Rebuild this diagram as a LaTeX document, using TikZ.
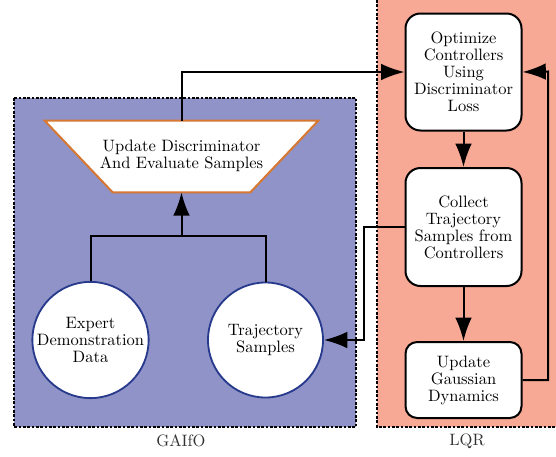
\documentclass[tikz,border=0pt]{standalone}
\usetikzlibrary{arrows.meta}
\definecolor{gaifo}{RGB}{143,147,200}
\definecolor{lqr}{RGB}{247,169,150}
\definecolor{circblue}{RGB}{40,58,140}
\definecolor{traporange}{RGB}{214,120,50}
\definecolor{lbl}{RGB}{50,50,50}
\begin{document}
\begin{tikzpicture}[x=0.6pt,y=-0.6pt,
  every node/.style={font=\fontsize{9.9}{10.2}\selectfont, align=center, inner sep=0pt},
  region/.style={draw=black, line width=0.9pt, dash pattern=on 1.6pt off 1pt},
  stepbox/.style={draw=black, fill=white, line width=1.2pt, rounded corners=9pt, minimum width=69.6pt},
  datacirc/.style={circle, draw=circblue, fill=white, line width=1.1pt, minimum size=69pt},
  trapline/.style={draw=traporange, fill=white, line width=1.2pt},
  conn/.style={draw=black, line width=1.2pt},
  arr/.style={conn, -{Latex[length=14pt,width=10pt]}},
  regionlabel/.style={text=lbl}
]
\useasboundingbox (0,0) rectangle (556,457);
% regions
\path[fill=lqr] (377,0) rectangle (556,427);
\draw[region] (377,0) -- (377,427) -- (556,427);
\draw[region, fill=gaifo] (14,98) rectangle (356,427);
\node[regionlabel] (lgaifo) at (181,441) {GAIfO};
\node[regionlabel] (llqr) at (467,441) {LQR};
% nodes
\node[stepbox, minimum height=70.2pt] (opt) at (463.5,72) {Optimize\\Controllers\\Using\\Discriminator\\Loss};
\node[stepbox, minimum height=70.8pt] (col) at (463.5,227) {Collect\\Trajectory\\Samples from\\Controllers};
\node[stepbox, minimum height=45.6pt, rounded corners=7pt] (upd) at (463.5,380) {Update\\Gaussian\\Dynamics};
\node[minimum width=163.8pt, minimum height=42.6pt] (disc) at (181.5,156.5) {};
\draw[trapline] (disc.north west) -- (disc.north east) -- ([xshift=-40.8pt]disc.south east) -- ([xshift=40.8pt]disc.south west) -- cycle;
\node (disctext) at (181.5,156) {Update Discriminator\\And Evaluate Samples};
\node[datacirc] (exp) at (90.5,340) {Expert\\Demonstration\\Data};
\node[datacirc] (traj) at (265.5,340) {Trajectory\\Samples};
\coordinate (jn) at (181.5,236);
\coordinate (rightc) at (548,71.5);
\coordinate (leftc) at (364,227);
% connectors
\draw[conn] (exp.north) |- (jn) -| (traj.north);
\draw[arr] (jn) -- (disc.south);
\draw[arr] (disc.north) |- (opt.west);
\draw[arr] (opt.south) -- (col.north);
\draw[arr] (col.south) -- (upd.north);
\draw[arr] (upd.east) -| (rightc) -- (opt.east);
\draw[arr] (col.west) -| (leftc) |- (traj.east);
\end{tikzpicture}
\end{document}
